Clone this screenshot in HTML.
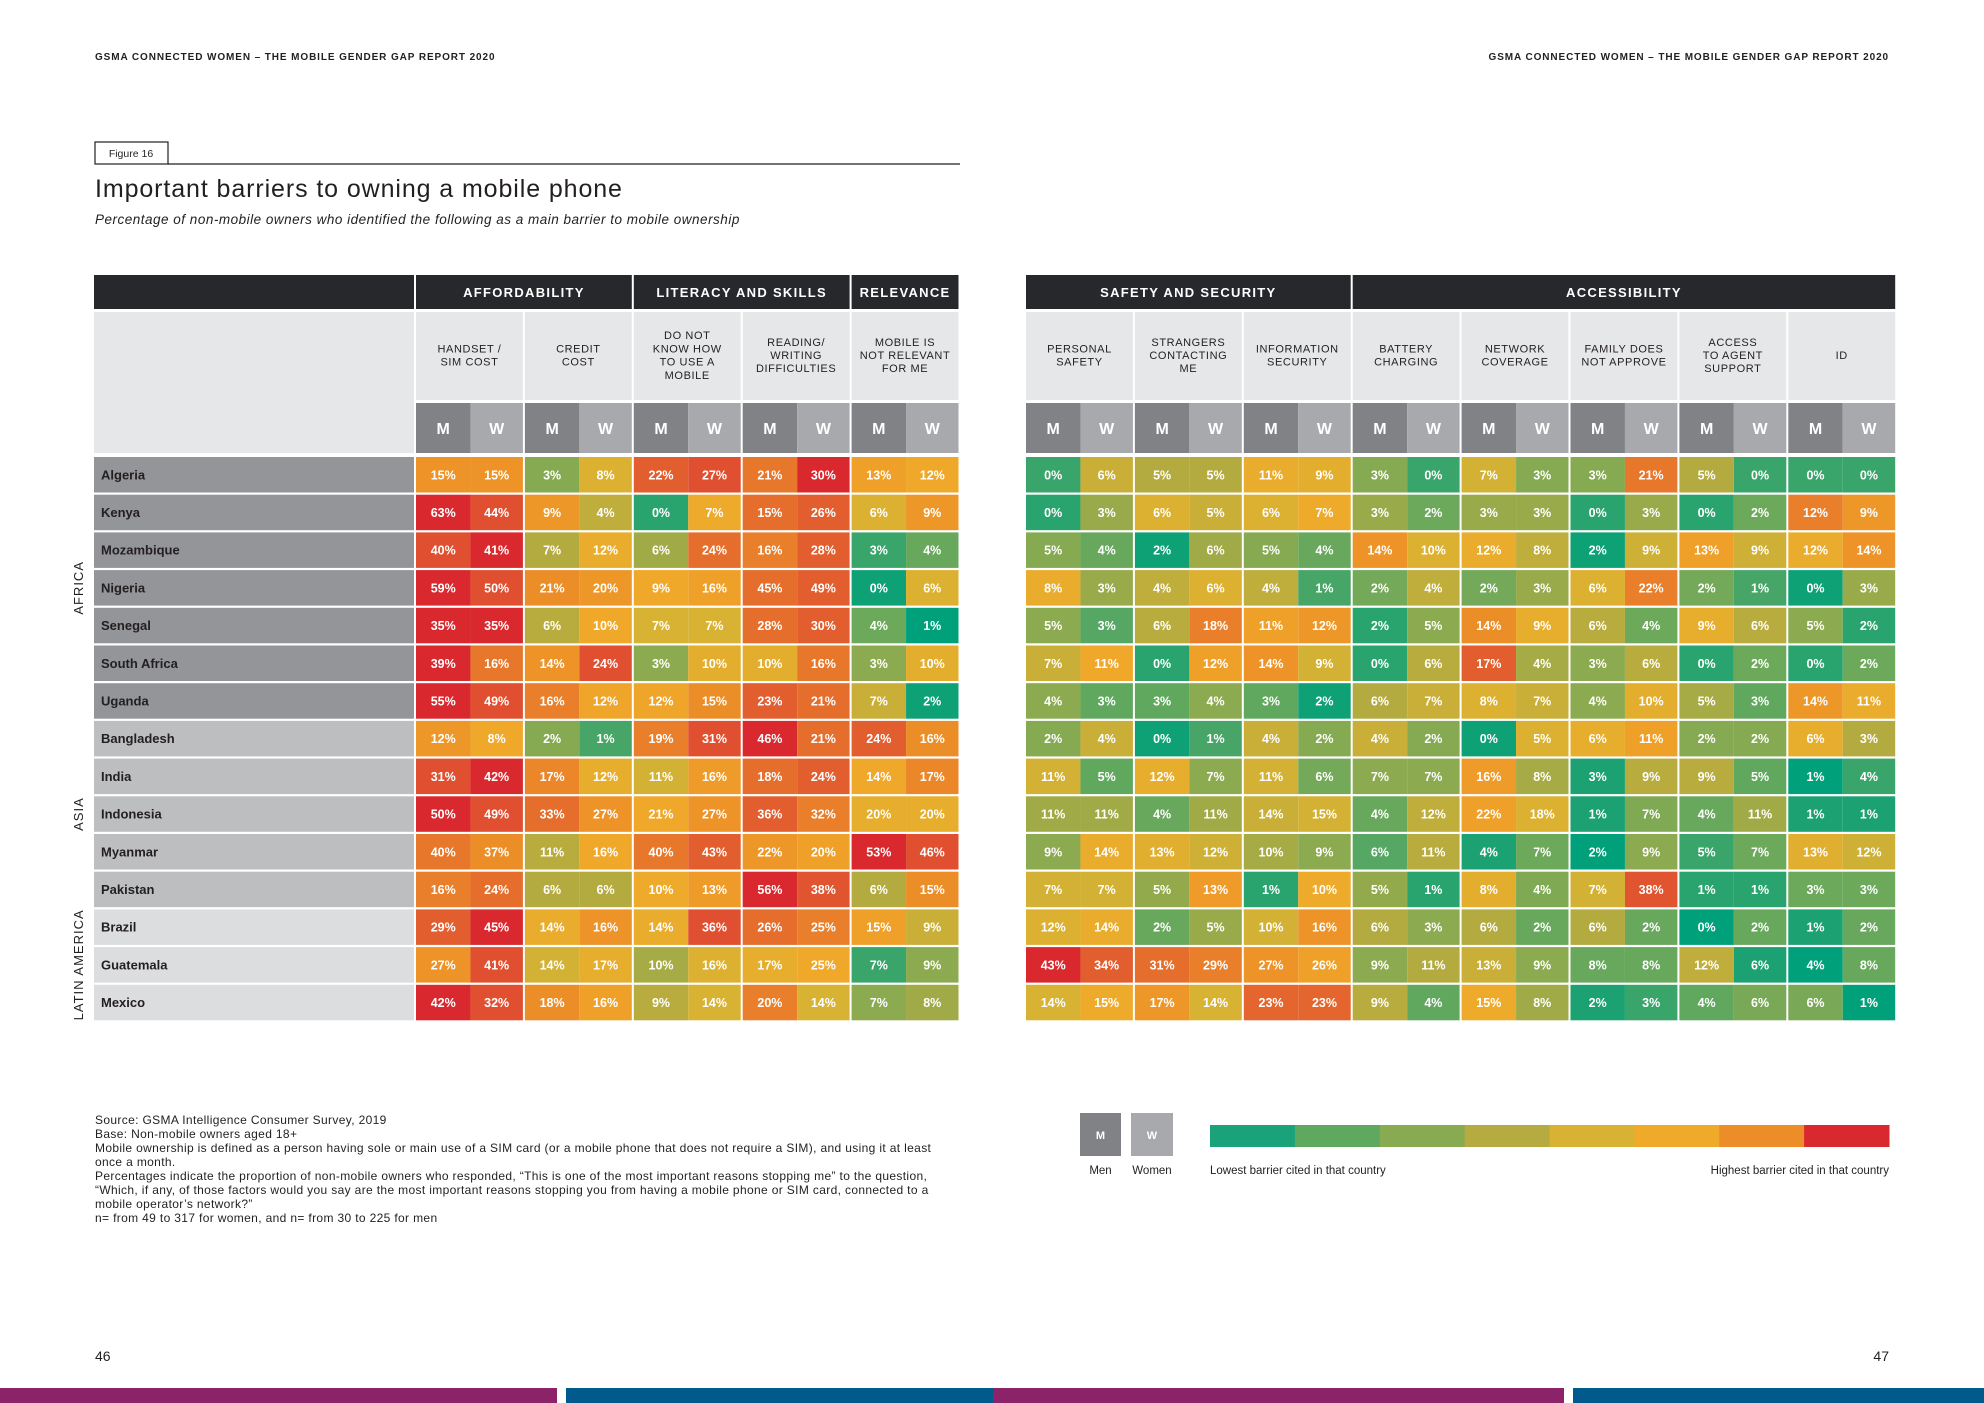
<!DOCTYPE html>
<html><head><meta charset="utf-8"><style>
html,body{margin:0;padding:0;background:#fff;}
svg{display:block;font-family:"Liberation Sans",sans-serif;}
</style></head><body>
<svg id="chart" width="1984" height="1403" viewBox="0 0 1984 1403" xmlns="http://www.w3.org/2000/svg">
<text x="95" y="60" font-size="10" font-weight="bold" letter-spacing="0.9" fill="#231f20">GSMA CONNECTED WOMEN – THE MOBILE GENDER GAP REPORT 2020</text>
<text x="1889" y="60" font-size="10" font-weight="bold" letter-spacing="0.9" fill="#231f20" text-anchor="end">GSMA CONNECTED WOMEN – THE MOBILE GENDER GAP REPORT 2020</text>
<rect x="95" y="142" width="73" height="22" fill="#fff" stroke="#231f20" stroke-width="1.2"/>
<text x="131" y="157" font-size="10.5" text-anchor="middle" fill="#231f20">Figure 16</text>
<line x1="168" y1="164" x2="960" y2="164" stroke="#231f20" stroke-width="1.2"/>
<text x="95" y="197" font-size="25" letter-spacing="0.9" fill="#231f20">Important barriers to owning a mobile phone</text>
<text x="95" y="224" font-size="13.5" letter-spacing="0.5" font-style="italic" fill="#231f20">Percentage of non-mobile owners who identified the following as a main barrier to mobile ownership</text>
<g id="tbl"></g>
<g font-size="12" letter-spacing="0.35" fill="#231f20">
<text x="95" y="1124">Source: GSMA Intelligence Consumer Survey, 2019</text>
<text x="95" y="1138">Base: Non-mobile owners aged 18+</text>
<text x="95" y="1152">Mobile ownership is defined as a person having sole or main use of a SIM card (or a mobile phone that does not require a SIM), and using it at least</text>
<text x="95" y="1166">once a month.</text>
<text x="95" y="1180">Percentages indicate the proportion of non-mobile owners who responded, “This is one of the most important reasons stopping me” to the question,</text>
<text x="95" y="1194">“Which, if any, of those factors would you say are the most important reasons stopping you from having a mobile phone or SIM card, connected to a</text>
<text x="95" y="1208">mobile operator’s network?”</text>
<text x="95" y="1222">n= from 49 to 317 for women, and n= from 30 to 225 for men</text>
</g>
<rect x="1080" y="1113" width="41" height="43" fill="#818285"/>
<text x="1100.5" y="1139" font-size="11" font-weight="bold" fill="#fff" text-anchor="middle">M</text>
<rect x="1131" y="1113" width="42" height="43" fill="#a7a9ac"/>
<text x="1152" y="1139" font-size="11" font-weight="bold" fill="#fff" text-anchor="middle">W</text>
<text x="1100.5" y="1174" font-size="11.5" fill="#231f20" text-anchor="middle">Men</text>
<text x="1152" y="1174" font-size="11.5" fill="#231f20" text-anchor="middle">Women</text>
<g id="legbar"></g>
<text x="1210" y="1174" font-size="11.5" fill="#231f20">Lowest barrier cited in that country</text>
<text x="1889" y="1174" font-size="11.5" fill="#231f20" text-anchor="end">Highest barrier cited in that country</text>
<text x="95" y="1361" font-size="14" fill="#231f20">46</text>
<text x="1889" y="1361" font-size="14" fill="#231f20" text-anchor="end">47</text>
<rect x="0" y="1388" width="557" height="15" fill="#8c2368"/>
<rect x="566" y="1388" width="427" height="15" fill="#005a8c"/>
<rect x="993" y="1388" width="571" height="15" fill="#8c2368"/>
<rect x="1573" y="1388" width="411" height="15" fill="#005a8c"/>
</svg>
<script>
const countries=["Algeria","Kenya","Mozambique","Nigeria","Senegal","South Africa","Uganda","Bangladesh","India","Indonesia","Myanmar","Pakistan","Brazil","Guatemala","Mexico"];
const regions=[["AFRICA",0,7,"#939598"],["ASIA",7,12,"#bcbec0"],["LATIN AMERICA",12,15,"#dcdddf"]];
const leftGroups=[["AFFORDABILITY",2],["LITERACY AND SKILLS",2],["RELEVANCE",1]];
const rightGroups=[["SAFETY AND SECURITY",3],["ACCESSIBILITY",5]];
const leftBarriers=[["HANDSET /","SIM COST"],["CREDIT","COST"],["DO NOT","KNOW HOW","TO USE A","MOBILE"],["READING/","WRITING","DIFFICULTIES"],["MOBILE IS","NOT RELEVANT","FOR ME"]];
const rightBarriers=[["PERSONAL","SAFETY"],["STRANGERS","CONTACTING","ME"],["INFORMATION","SECURITY"],["BATTERY","CHARGING"],["NETWORK","COVERAGE"],["FAMILY DOES","NOT APPROVE"],["ACCESS","TO AGENT","SUPPORT"],["ID"]];
const leftValues=[
[15,15,3,8,22,27,21,30,13,12],
[63,44,9,4,0,7,15,26,6,9],
[40,41,7,12,6,24,16,28,3,4],
[59,50,21,20,9,16,45,49,0,6],
[35,35,6,10,7,7,28,30,4,1],
[39,16,14,24,3,10,10,16,3,10],
[55,49,16,12,12,15,23,21,7,2],
[12,8,2,1,19,31,46,21,24,16],
[31,42,17,12,11,16,18,24,14,17],
[50,49,33,27,21,27,36,32,20,20],
[40,37,11,16,40,43,22,20,53,46],
[16,24,6,6,10,13,56,38,6,15],
[29,45,14,16,14,36,26,25,15,9],
[27,41,14,17,10,16,17,25,7,9],
[42,32,18,16,9,14,20,14,7,8]];
const rightValues=[
[0,6,5,5,11,9,3,0,7,3,3,21,5,0,0,0],
[0,3,6,5,6,7,3,2,3,3,0,3,0,2,12,9],
[5,4,2,6,5,4,14,10,12,8,2,9,13,9,12,14],
[8,3,4,6,4,1,2,4,2,3,6,22,2,1,0,3],
[5,3,6,18,11,12,2,5,14,9,6,4,9,6,5,2],
[7,11,0,12,14,9,0,6,17,4,3,6,0,2,0,2],
[4,3,3,4,3,2,6,7,8,7,4,10,5,3,14,11],
[2,4,0,1,4,2,4,2,0,5,6,11,2,2,6,3],
[11,5,12,7,11,6,7,7,16,8,3,9,9,5,1,4],
[11,11,4,11,14,15,4,12,22,18,1,7,4,11,1,1],
[9,14,13,12,10,9,6,11,4,7,2,9,5,7,13,12],
[7,7,5,13,1,10,5,1,8,4,7,38,1,1,3,3],
[12,14,2,5,10,16,6,3,6,2,6,2,0,2,1,2],
[43,34,31,29,27,26,9,11,13,9,8,8,12,6,4,8],
[14,15,17,14,23,23,9,4,15,8,2,3,4,6,6,1]];
const legendColors=["#1aa37a","#5fa860","#88aa50","#b5ab40","#d8b232","#f0aa2a","#ec8d28","#d9282e"];

const NS="http://www.w3.org/2000/svg";
const stops=["#00a07a","#5fa860","#88aa50","#b5ab40","#d8b232","#f0aa2a","#ec8d28","#e05530","#d9282e"];
function hex(c){return [1,3,5].map(i=>parseInt(c.substr(i,2),16));}
function colorAt(t){t=Math.max(0,Math.min(1,t));const p=t*(stops.length-1);const i=Math.min(stops.length-2,Math.floor(p));const f=p-i;const a=hex(stops[i]),b=hex(stops[i+1]);return "rgb("+a.map((v,k)=>Math.round(v+(b[k]-v)*f)).join(",")+")";}
function mk(tag,attrs,parent){const e=document.createElementNS(NS,tag);for(const k in attrs)e.setAttribute(k,attrs[k]);parent.appendChild(e);return e;}
const g=document.getElementById("tbl");
const rowY0=457,rowH=37.7,rowGap=2.2,cellW=54.45,gap=2;
const yScale=i=>rowY0+i*rowH;
const leftX0=416,rightX0=1026;
const xScale=(x0,c)=>x0+c*cellW;
function rank(row,v){let lt=0,eq=0;row.forEach(x=>{if(x<v)lt++;else if(x===v)eq++;});const r=(lt+(eq-1)/2)/(row.length-1);const mx=Math.max(...row);return v===mx?1:r*0.93;}

let e=mk("rect",{x:94,y:275,width:320,height:34,fill:"#26282b"},g);


e=mk("rect",{x:94,y:312,width:320,height:141,fill:"#e6e7e8"},g);



function drawSide(x0,groups,barriers,values,side){
  let c=0;
  groups.forEach(gr=>{
    const x=xScale(x0,c), w=gr[1]*2*cellW-gap;
    const r=mk("rect",{x:x,y:275,width:w,height:34,fill:"#26282b"},g);
    
    
    const t=mk("text",{x:x+w/2,y:297,"font-size":13,"font-weight":"bold","letter-spacing":1.3,fill:"#fff","text-anchor":"middle"},g);
    t.textContent=gr[0];
    
    
    c+=gr[1]*2;
  });
  barriers.forEach((lines,b)=>{
    const x=xScale(x0,b*2), w=2*cellW-gap;
    const r=mk("rect",{x:x,y:312,width:w,height:88,fill:"#e6e7e8"},g);
    
    
    const lh=13.2, cy=359-(lines.length-1)*lh/2;
    lines.forEach((ln,i)=>{
      const t=mk("text",{x:x+w/2,y:cy+i*lh,"font-size":11,"letter-spacing":0.6,fill:"#231f20","text-anchor":"middle"},g);
      t.textContent=ln;
      
      
    });
    ["M","W"].forEach((s,k)=>{
      const cx=xScale(x0,b*2+k), cw=k?cellW-gap:cellW;
      const m=mk("rect",{x:cx,y:403,width:cw,height:50,fill:k?"#a7a9ac":"#818285"},g);
      
      
      const t=mk("text",{x:cx+cw/2,y:434,"font-size":16,"font-weight":"bold",fill:"#fff","text-anchor":"middle"},g);
      t.textContent=s;
    });
  });
}
drawSide(leftX0,leftGroups,leftBarriers,leftValues,"left");
drawSide(rightX0,rightGroups,rightBarriers,rightValues,"right");

countries.forEach((name,i)=>{
  const y=yScale(i), h=rowH-rowGap;
  const reg=regions.find(r=>i>=r[1]&&i<r[2]);
  const lr=mk("rect",{x:94,y:y,width:320,height:h,fill:reg[3]},g);
  
  
  const lt=mk("text",{x:101,y:y+h/2+4.5,"font-size":13,"font-weight":"bold",fill:"#231f20"},g);
  lt.textContent=name;
  
  
  const all=leftValues[i].concat(rightValues[i]);
  [[leftX0,leftValues[i]],[rightX0,rightValues[i]]].forEach(([x0,vals])=>{
    vals.forEach((v,c)=>{
      const x=xScale(x0,c), w=(c%2)?cellW-gap:cellW;
      const r=mk("rect",{x:x,y:y,width:w,height:h,fill:colorAt(rank(all,v))},g);
      
      
      const t=mk("text",{x:x+w/2,y:y+h/2+4.5,"font-size":12.5,"font-weight":"bold",fill:"#fff","text-anchor":"middle"},g);
      t.textContent=v+"%";
      
      
    });
  });
});
regions.forEach(r=>{
  const cy=(yScale(r[1])+yScale(r[2])-rowGap)/2;
  const t=mk("text",{x:0,y:0,"font-size":13,"letter-spacing":1,fill:"#231f20","text-anchor":"middle",transform:"translate(83,"+cy+") rotate(-90)"},g);
  t.textContent=r[0];
  
  
});
const lb=document.getElementById("legbar");
const lw=(1889-1210)/legendColors.length;
legendColors.forEach((c,i)=>{
  const r=mk("rect",{x:1210+i*lw,y:1125,width:lw+0.5,height:22,fill:c},lb);
  
  
});
</script>
</body></html>
